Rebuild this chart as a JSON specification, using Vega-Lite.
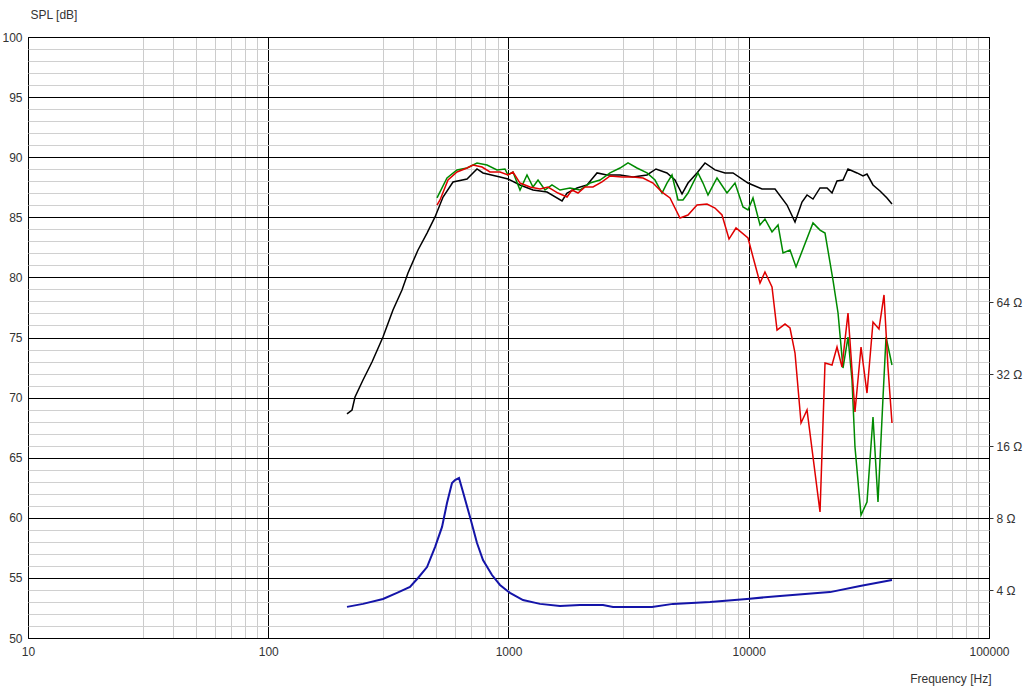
{
  "$schema": "https://vega.github.io/schema/vega-lite/v6.json",
  "width": 961,
  "height": 601,
  "autosize": "none",
  "padding": {"left": 28, "top": 37, "right": 35, "bottom": 51},
  "background": "#ffffff",
  "config": {
    "view": {"stroke": "#000000", "strokeWidth": 1},
    "axis": {"labelFont": "Liberation Sans", "titleFont": "Liberation Sans", "labelFontSize": 12, "titleFontSize": 12, "labelColor": "#333333", "titleColor": "#333333", "titleFontWeight": "normal", "domain": false}
  },
  "datasets": {
    "spl": [
      {"s": "black", "f": 212.7, "db": 68.64}, {"s": "black", "f": 223.2, "db": 68.97}, {"s": "black", "f": 229.7, "db": 70.05}, {"s": "black", "f": 248.0, "db": 71.46}, {"s": "black", "f": 270.3, "db": 72.96}, {"s": "black", "f": 300.3, "db": 75.04}, {"s": "black", "f": 330.5, "db": 77.29}, {"s": "black", "f": 360.3, "db": 78.95}, {"s": "black", "f": 381.6, "db": 80.37}, {"s": "black", "f": 420.1, "db": 82.28}, {"s": "black", "f": 458.0, "db": 83.69}, {"s": "black", "f": 494.5, "db": 85.03}, {"s": "black", "f": 534.0, "db": 86.69}, {"s": "black", "f": 587.5, "db": 87.94}, {"s": "black", "f": 672.0, "db": 88.19}, {"s": "black", "f": 739.4, "db": 89.02}, {"s": "black", "f": 783.2, "db": 88.69}, {"s": "black", "f": 921.7, "db": 88.35}, {"s": "black", "f": 995.2, "db": 88.19}, {"s": "black", "f": 1116.6, "db": 87.69}, {"s": "black", "f": 1264.6, "db": 87.27}, {"s": "black", "f": 1446.4, "db": 87.10}, {"s": "black", "f": 1670.6, "db": 86.36}, {"s": "black", "f": 1752.5, "db": 87.02}, {"s": "black", "f": 1928.8, "db": 87.44}, {"s": "black", "f": 2122.9, "db": 87.69}, {"s": "black", "f": 2336.1, "db": 88.69}, {"s": "black", "f": 2570.4, "db": 88.52}, {"s": "black", "f": 2911.5, "db": 88.52}, {"s": "black", "f": 3298.3, "db": 88.35}, {"s": "black", "f": 3771.9, "db": 88.52}, {"s": "black", "f": 4111.2, "db": 89.02}, {"s": "black", "f": 4567, "db": 88.69}, {"s": "black", "f": 4932, "db": 88.10}, {"s": "black", "f": 5276, "db": 86.94}, {"s": "black", "f": 5587, "db": 87.85}, {"s": "black", "f": 6090, "db": 88.69}, {"s": "black", "f": 6575, "db": 89.52}, {"s": "black", "f": 7236, "db": 88.94}, {"s": "black", "f": 7963, "db": 88.69}, {"s": "black", "f": 8600, "db": 88.69}, {"s": "black", "f": 9928, "db": 87.85}, {"s": "black", "f": 11356, "db": 87.35}, {"s": "black", "f": 12864, "db": 87.35}, {"s": "black", "f": 14430, "db": 86.02}, {"s": "black", "f": 15580, "db": 84.61}, {"s": "black", "f": 16660, "db": 86.27}, {"s": "black", "f": 17480, "db": 86.86}, {"s": "black", "f": 18510, "db": 86.52}, {"s": "black", "f": 19800, "db": 87.44}, {"s": "black", "f": 21180, "db": 87.44}, {"s": "black", "f": 22210, "db": 87.02}, {"s": "black", "f": 23300, "db": 88.02}, {"s": "black", "f": 24680, "db": 88.10}, {"s": "black", "f": 25890, "db": 89.02}, {"s": "black", "f": 28220, "db": 88.69}, {"s": "black", "f": 29890, "db": 88.44}, {"s": "black", "f": 31060, "db": 88.60}, {"s": "black", "f": 32900, "db": 87.69}, {"s": "black", "f": 35180, "db": 87.19}, {"s": "black", "f": 37620, "db": 86.61}, {"s": "black", "f": 39460, "db": 86.11},

      {"s": "green", "f": 504.0, "db": 86.61}, {"s": "green", "f": 554.6, "db": 88.27}, {"s": "green", "f": 610.4, "db": 88.94}, {"s": "green", "f": 672.0, "db": 89.10}, {"s": "green", "f": 739.4, "db": 89.52}, {"s": "green", "f": 813.8, "db": 89.35}, {"s": "green", "f": 895.6, "db": 88.94}, {"s": "green", "f": 966.9, "db": 89.02}, {"s": "green", "f": 995.2, "db": 88.52}, {"s": "green", "f": 1043.9, "db": 88.77}, {"s": "green", "f": 1116.6, "db": 87.27}, {"s": "green", "f": 1194, "db": 88.52}, {"s": "green", "f": 1264.6, "db": 87.52}, {"s": "green", "f": 1327, "db": 88.10}, {"s": "green", "f": 1419, "db": 87.27}, {"s": "green", "f": 1517, "db": 87.69}, {"s": "green", "f": 1638, "db": 87.27}, {"s": "green", "f": 1803, "db": 87.44}, {"s": "green", "f": 1984, "db": 87.27}, {"s": "green", "f": 2184, "db": 87.85}, {"s": "green", "f": 2404, "db": 88.10}, {"s": "green", "f": 2646, "db": 88.69}, {"s": "green", "f": 2911.5, "db": 89.10}, {"s": "green", "f": 3144, "db": 89.52}, {"s": "green", "f": 3426, "db": 89.10}, {"s": "green", "f": 3772, "db": 88.69}, {"s": "green", "f": 4072, "db": 88.10}, {"s": "green", "f": 4355, "db": 87.02}, {"s": "green", "f": 4567, "db": 87.85}, {"s": "green", "f": 4792, "db": 88.52}, {"s": "green", "f": 5076, "db": 86.44}, {"s": "green", "f": 5324, "db": 86.44}, {"s": "green", "f": 5587, "db": 87.02}, {"s": "green", "f": 6149, "db": 88.69}, {"s": "green", "f": 6450, "db": 87.85}, {"s": "green", "f": 6767, "db": 86.86}, {"s": "green", "f": 7376, "db": 88.27}, {"s": "green", "f": 8119, "db": 87.02}, {"s": "green", "f": 8765, "db": 87.85}, {"s": "green", "f": 9465, "db": 85.86}, {"s": "green", "f": 9928, "db": 85.61}, {"s": "green", "f": 10416, "db": 86.61}, {"s": "green", "f": 11140, "db": 84.36}, {"s": "green", "f": 11681, "db": 84.86}, {"s": "green", "f": 12497, "db": 83.78}, {"s": "green", "f": 13240, "db": 84.36}, {"s": "green", "f": 13888, "db": 82.03}, {"s": "green", "f": 14849, "db": 82.28}, {"s": "green", "f": 15733, "db": 80.87}, {"s": "green", "f": 18510, "db": 84.53}, {"s": "green", "f": 19800, "db": 83.94}, {"s": "green", "f": 20770, "db": 83.69}, {"s": "green", "f": 22420, "db": 79.78}, {"s": "green", "f": 23530, "db": 77.04}, {"s": "green", "f": 24680, "db": 72.46}, {"s": "green", "f": 25890, "db": 75.04}, {"s": "green", "f": 26900, "db": 71.46}, {"s": "green", "f": 27680, "db": 65.89}, {"s": "green", "f": 29330, "db": 60.23}, {"s": "green", "f": 31060, "db": 61.31}, {"s": "green", "f": 32900, "db": 68.39}, {"s": "green", "f": 34510, "db": 61.31}, {"s": "green", "f": 36220, "db": 70.05}, {"s": "green", "f": 37270, "db": 75.04}, {"s": "green", "f": 39460, "db": 72.71},

      {"s": "red", "f": 504.0, "db": 86.02}, {"s": "red", "f": 518.7, "db": 86.44}, {"s": "red", "f": 560.1, "db": 88.10}, {"s": "red", "f": 610.4, "db": 88.77}, {"s": "red", "f": 672.0, "db": 89.10}, {"s": "red", "f": 711.6, "db": 89.35}, {"s": "red", "f": 775.7, "db": 89.18}, {"s": "red", "f": 837.5, "db": 88.77}, {"s": "red", "f": 921.7, "db": 88.77}, {"s": "red", "f": 995.2, "db": 88.52}, {"s": "red", "f": 1043.9, "db": 88.77}, {"s": "red", "f": 1116.6, "db": 87.85}, {"s": "red", "f": 1228.7, "db": 87.52}, {"s": "red", "f": 1352.3, "db": 87.35}, {"s": "red", "f": 1460.4, "db": 87.52}, {"s": "red", "f": 1606.9, "db": 87.02}, {"s": "red", "f": 1752.5, "db": 86.69}, {"s": "red", "f": 1838, "db": 87.27}, {"s": "red", "f": 1947, "db": 87.02}, {"s": "red", "f": 2082, "db": 87.52}, {"s": "red", "f": 2247, "db": 87.52}, {"s": "red", "f": 2450, "db": 87.94}, {"s": "red", "f": 2646, "db": 88.44}, {"s": "red", "f": 2968, "db": 88.35}, {"s": "red", "f": 3298, "db": 88.35}, {"s": "red", "f": 3630, "db": 88.27}, {"s": "red", "f": 3995, "db": 87.85}, {"s": "red", "f": 4355, "db": 87.10}, {"s": "red", "f": 4701, "db": 86.61}, {"s": "red", "f": 5173, "db": 84.94}, {"s": "red", "f": 5587, "db": 85.19}, {"s": "red", "f": 6090, "db": 86.02}, {"s": "red", "f": 6702, "db": 86.11}, {"s": "red", "f": 7236, "db": 85.77}, {"s": "red", "f": 7739, "db": 85.19}, {"s": "red", "f": 8277, "db": 83.19}, {"s": "red", "f": 8850, "db": 84.11}, {"s": "red", "f": 9928, "db": 83.28}, {"s": "red", "f": 10416, "db": 81.70}, {"s": "red", "f": 11140, "db": 79.53}, {"s": "red", "f": 11681, "db": 80.45}, {"s": "red", "f": 12497, "db": 79.20}, {"s": "red", "f": 13113, "db": 75.62}, {"s": "red", "f": 14155, "db": 76.12}, {"s": "red", "f": 14849, "db": 75.79}, {"s": "red", "f": 15580, "db": 73.71}, {"s": "red", "f": 16506, "db": 67.89}, {"s": "red", "f": 17480, "db": 68.97}, {"s": "red", "f": 19800, "db": 60.48}, {"s": "red", "f": 20770, "db": 72.88}, {"s": "red", "f": 22210, "db": 72.71}, {"s": "red", "f": 23300, "db": 74.21}, {"s": "red", "f": 24440, "db": 72.55}, {"s": "red", "f": 25890, "db": 77.04}, {"s": "red", "f": 27680, "db": 68.80}, {"s": "red", "f": 29330, "db": 74.21}, {"s": "red", "f": 31060, "db": 70.38}, {"s": "red", "f": 32900, "db": 76.29}, {"s": "red", "f": 34840, "db": 75.71}, {"s": "red", "f": 36560, "db": 78.54}, {"s": "red", "f": 37970, "db": 72.55}, {"s": "red", "f": 39460, "db": 67.89}
    ],
    "imp": [
      {"f": 212.7, "ohm": 3.40}, {"f": 248.0, "ohm": 3.50}, {"f": 300.3, "ohm": 3.67}, {"f": 343.4, "ohm": 3.89}, {"f": 389.0, "ohm": 4.12}, {"f": 420.1, "ohm": 4.49}, {"f": 458.0, "ohm": 4.99}, {"f": 494.5, "ohm": 6.05}, {"f": 528.9, "ohm": 7.34}, {"f": 554.6, "ohm": 9.24}, {"f": 581.9, "ohm": 11.21}, {"f": 598.9, "ohm": 11.53}, {"f": 622.3, "ohm": 11.76}, {"f": 646.6, "ohm": 10.27}, {"f": 691.5, "ohm": 8.08}, {"f": 739.4, "ohm": 6.29}, {"f": 783.2, "ohm": 5.34}, {"f": 853.7, "ohm": 4.62}, {"f": 921.7, "ohm": 4.20}, {"f": 1014.4, "ohm": 3.89}, {"f": 1149, "ohm": 3.63}, {"f": 1352, "ohm": 3.50}, {"f": 1638, "ohm": 3.43}, {"f": 1984, "ohm": 3.46}, {"f": 2474, "ohm": 3.46}, {"f": 2723, "ohm": 3.40}, {"f": 3957, "ohm": 3.40}, {"f": 4837, "ohm": 3.50}, {"f": 6898, "ohm": 3.56}, {"f": 9833, "ohm": 3.67}, {"f": 13493, "ohm": 3.78}, {"f": 21790, "ohm": 3.92}, {"f": 29050, "ohm": 4.16}, {"f": 39460, "ohm": 4.40}
    ]
  },
  "encoding": {
    "x": {
      "field": "f", "type": "quantitative",
      "scale": {"type": "log", "domain": [10, 100000], "nice": false},
      "axis": {
        "values": [10,30,40,50,60,70,80,90,100,300,400,500,600,700,800,900,1000,3000,4000,5000,6000,7000,8000,9000,10000,30000,40000,50000,60000,70000,80000,90000,100000],
        "format": "d",
        "labelExpr": "indexof([10,100,1000,10000,100000], datum.value) >= 0 ? datum.label : ''",
        "labelOverlap": false,
        "labelFlush": false,
        "ticks": false,
        "labelPadding": 8,
        "grid": true,
        "gridColor": {"condition": {"test": "indexof([10,100,1000,10000,100000], datum.value) >= 0", "value": "#000000"}, "value": "#cccccc"},
        "gridWidth": 1,
        "title": "Frequency [Hz]",
        "titleAnchor": "end",
        "titleAlign": "right",
        "titleX": 963,
        "titleY": 40,
        "titleBaseline": "middle"
      }
    }
  },
  "layer": [
    {
      "data": {"name": "spl"},
      "encoding": {
        "y": {
          "field": "db", "type": "quantitative",
          "scale": {"domain": [50, 100], "nice": false, "zero": false},
          "axis": {
            "values": [50,51,52,53,54,55,56,57,58,59,60,61,62,63,64,65,66,67,68,69,70,71,72,73,74,75,76,77,78,79,80,81,82,83,84,85,86,87,88,89,90,91,92,93,94,95,96,97,98,99,100],
            "labelExpr": "datum.value % 5 === 0 ? datum.label : ''",
            "labelOverlap": false,
            "labelFlush": false,
            "ticks": false,
            "labelPadding": 6,
            "grid": true,
            "gridColor": {"condition": {"test": "datum.value % 5 === 0", "value": "#000000"}, "value": "#d0d0d0"},
            "gridWidth": 1,
            "title": "SPL [dB]",
            "titleAngle": 0,
            "titleAlign": "left",
            "titleAnchor": "start",
            "titleX": 2,
            "titleY": -23,
            "titleBaseline": "middle"
          }
        }
      },
      "layer": [
        {"transform": [{"filter": "datum.s === 'black'"}], "mark": {"type": "line", "color": "#000000", "strokeWidth": 1.5}},
        {"transform": [{"filter": "datum.s === 'green'"}], "mark": {"type": "line", "color": "#008a00", "strokeWidth": 1.5}},
        {"transform": [{"filter": "datum.s === 'red'"}], "mark": {"type": "line", "color": "#e00000", "strokeWidth": 1.5}}
      ]
    },
    {
      "data": {"name": "imp"},
      "mark": {"type": "line", "color": "#1414a8", "strokeWidth": 2},
      "encoding": {
        "y": {
          "field": "ohm", "type": "quantitative",
          "scale": {"type": "log", "base": 2, "domain": [2.52, 820.8], "nice": false, "zero": false},
          "axis": {
            "orient": "right",
            "values": [4, 8, 16, 32, 64],
            "labelExpr": "datum.value + ' Ω'",
            "grid": false,
            "ticks": true,
            "tickSize": 4,
            "tickColor": "#333333",
            "labelPadding": 3,
            "title": null
          }
        }
      }
    }
  ],
  "resolve": {"scale": {"y": "independent"}}
}
